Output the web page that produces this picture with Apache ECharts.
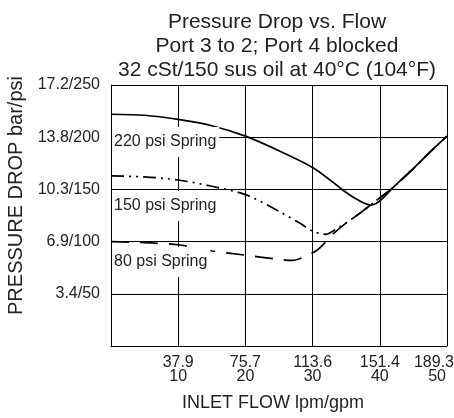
<!DOCTYPE html>
<html>
<head>
<meta charset="utf-8">
<script src="https://cdn.jsdelivr.net/npm/echarts@6/dist/echarts.min.js"></script>
<style>
  html, body { margin: 0; padding: 0; background: #fff; }
  #chart { width: 454px; height: 418px; }
</style>
</head>
<body>
<div id="chart"></div>
<script>
// Tick labels
const flowLpm = ['37.9', '75.7', '113.6', '151.4', '189.3'];
const flowGpm = [10, 20, 30, 40, 50];
const psiTicks = [50, 100, 150, 200, 250];
const barTicks = ['3.4', '6.9', '10.3', '13.8', '17.2'];

// Curves: [gpm, psi]
const spring220 = [[0, 222], [5, 221], [10, 217], [15, 211], [20, 201], [25, 187], [30, 171],
    [33, 157], [35, 147], [37, 139], [38.7, 135], [40, 139], [42, 152], [45, 170], [48, 189], [50, 201]];
const spring150 = [[0, 163], [5, 162], [10, 159], [15, 153], [20, 145], [25, 129], [28, 118],
    [30, 110], [31, 108], [32, 107], [33, 110], [35, 118], [37, 127], [39, 137], [42, 152],
    [45, 170], [48, 189], [50, 201]];
const spring80 = [[0, 100], [5, 99], [10, 97], [15, 91], [20, 87], [25, 83], [27, 82], [29, 86],
    [30.7, 92], [32, 100], [33, 107], [35, 118], [37, 127], [39, 137], [42, 152], [45, 170],
    [48, 189], [50, 201]];

const FONT = '"Liberation Sans", Arial, Helvetica, sans-serif';
const INK = '#222';

const chart = echarts.init(document.getElementById('chart'));

// spring names sit on a white box that hides the grid behind them
const springLabel = (text, top) => ({
    type: 'text',
    left: 112,
    top: top,
    z: 100,
    style: {
        text: text,
        font: '16px ' + FONT,
        fill: INK,
        backgroundColor: '#fff',
        padding: [7, 3, 7, 2]
    }
});

chart.setOption({
    animation: false,
    title: {
        text: 'Pressure Drop vs. Flow\nPort 3 to 2; Port 4 blocked\n32 cSt/150 sus oil at 40°C (104°F)',
        left: 272,
        top: 5,
        textAlign: 'center',
        textStyle: {
            fontFamily: FONT,
            fontSize: 21,
            fontWeight: 'normal',
            color: INK,
            lineHeight: 24
        }
    },
    grid: {
        left: 111,
        right: 7,
        top: 85,
        bottom: 72,
        containLabel: false,
        outerBoundsMode: 'none'
    },
    xAxis: {
        type: 'value',
        min: 0,
        max: 50,
        interval: 10,
        name: 'INLET FLOW lpm/gpm',
        nameLocation: 'middle',
        nameGap: 48,
        nameTextStyle: { fontFamily: FONT, fontSize: 18, color: INK, padding: [0, 12, 0, 0] },
        axisLine: { show: true, lineStyle: { color: '#000', width: 1 } },
        axisTick: { show: false },
        splitLine: { show: true, lineStyle: { color: '#000', width: 1 } },
        axisLabel: {
            fontFamily: FONT,
            fontSize: 16,
            color: INK,
            lineHeight: 14,
            margin: 10,
            alignMaxLabel: 'right',
            formatter: (v) => {
                const i = flowGpm.indexOf(v);
                if (i < 0) return '';
                // last label is pushed to the page edge as in the original
                if (v === 50) return '{m|' + flowLpm[i] + '}\n{n|' + flowGpm[i] + '}';
                return flowLpm[i] + '\n' + flowGpm[i];
            },
            rich: {
                m: { fontFamily: FONT, fontSize: 16, color: INK, lineHeight: 14, padding: [0, -7, 0, 0] },
                n: { fontFamily: FONT, fontSize: 16, color: INK, lineHeight: 14, padding: [0, 1, 0, 0] }
            }
        }
    },
    yAxis: {
        type: 'value',
        min: 0,
        max: 250,
        interval: 50,
        name: 'PRESSURE DROP bar/psi',
        nameLocation: 'middle',
        nameGap: 79,
        nameTextStyle: { fontFamily: FONT, fontSize: 20, color: INK, padding: [0, 0, 0, 40] },
        axisLine: { show: true, lineStyle: { color: '#000', width: 1 } },
        axisTick: { show: false },
        splitLine: { show: true, lineStyle: { color: '#000', width: 1 } },
        axisLabel: {
            fontFamily: FONT,
            fontSize: 16,
            color: INK,
            margin: 11,
            padding: [7, 0, 0, 0],
            formatter: (v) => {
                const i = psiTicks.indexOf(v);
                return i < 0 ? '' : barTicks[i] + '/' + psiTicks[i];
            }
        }
    },
    series: [
        {
            name: '220 psi Spring',
            type: 'line',
            data: spring220,
            smooth: 0.3,
            symbol: 'none',
            lineStyle: { color: '#000', width: 1.7, type: 'solid' }
        },
        {
            name: '150 psi Spring',
            type: 'line',
            data: spring150,
            smooth: 0.3,
            symbol: 'none',
            lineStyle: { color: '#000', width: 1.7, type: [13, 5, 2, 5, 2, 5] }
        },
        {
            name: '80 psi Spring',
            type: 'line',
            data: spring80,
            smooth: 0.3,
            symbol: 'none',
            lineStyle: { color: '#000', width: 1.7, type: [18, 11] }
        }
    ],
    graphic: [
        springLabel('220 psi Spring', 127),
        springLabel('150 psi Spring', 191),
        springLabel('80 psi Spring', 247)
    ]
});
</script>
</body>
</html>
